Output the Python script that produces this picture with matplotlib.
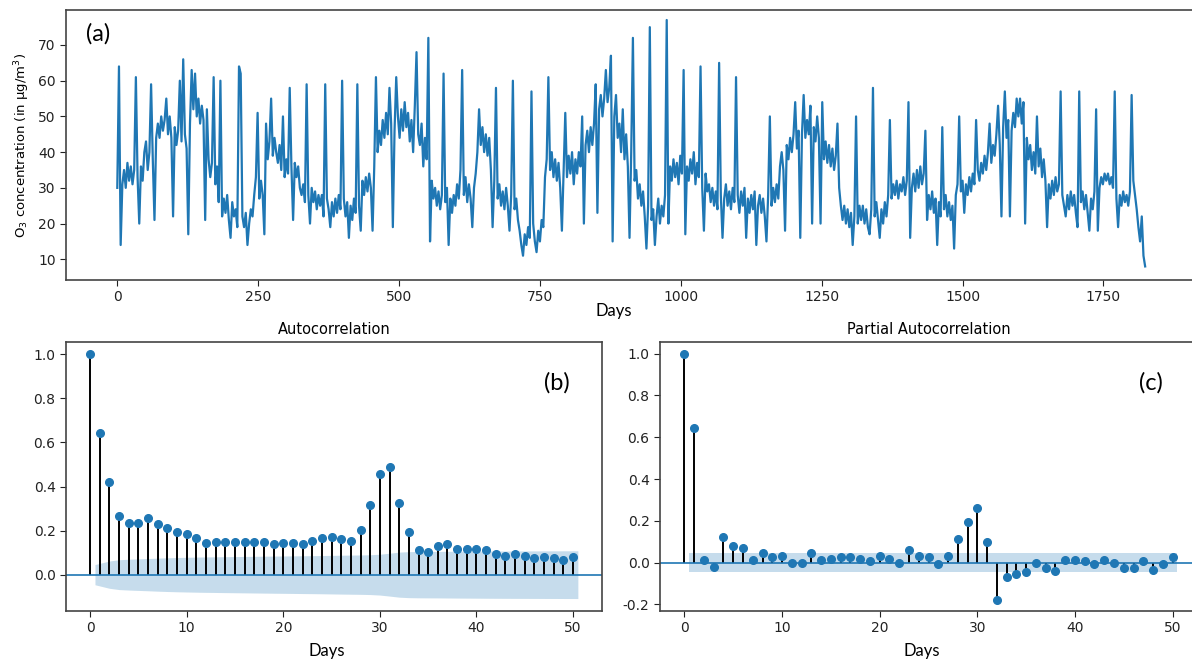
import numpy as np
import matplotlib
matplotlib.use('Agg')
import matplotlib.pyplot as plt

# O3 series, every 3 days (0 .. 1824)
days = np.arange(0, 1825, 3)
o3 = [
    30, 64, 14, 31, 35, 30, 37, 32, 36, 31,
    35, 61, 33, 20, 36, 32, 40, 43, 35, 40,
    59, 38, 21, 44, 48, 44, 50, 46, 49, 55,
    45, 50, 44, 22, 47, 42, 46, 60, 43, 66,
    45, 41, 17, 48, 63, 52, 62, 50, 55, 48,
    53, 49, 21, 52, 38, 33, 37, 61, 31, 36,
    26, 60, 22, 27, 23, 28, 21, 16, 26, 22,
    24, 19, 64, 62, 22, 19, 23, 14, 20, 24,
    22, 28, 33, 51, 27, 32, 28, 17, 48, 38,
    43, 55, 39, 44, 40, 37, 42, 35, 50, 33,
    38, 34, 58, 36, 21, 37, 33, 36, 30, 28,
    31, 26, 59, 28, 20, 30, 26, 29, 24, 28,
    25, 28, 22, 59, 27, 24, 19, 26, 22, 27,
    23, 28, 24, 60, 27, 22, 26, 16, 25, 21,
    27, 23, 59, 25, 18, 32, 28, 33, 29, 34,
    30, 18, 36, 61, 40, 46, 42, 49, 44, 51,
    45, 58, 48, 19, 46, 61, 50, 44, 52, 46,
    54, 47, 51, 43, 49, 40, 53, 68, 45, 42,
    48, 36, 44, 38, 72, 15, 32, 27, 30, 25,
    29, 24, 28, 62, 26, 30, 14, 27, 23, 28,
    25, 31, 27, 35, 63, 28, 33, 26, 31, 27,
    19, 30, 34, 40, 52, 42, 47, 40, 45, 39,
    44, 35, 19, 32, 58, 27, 31, 25, 29, 24,
    30, 25, 18, 28, 60, 24, 27, 21, 18, 14,
    11, 17, 14, 19, 16, 57, 20, 15, 12, 18,
    15, 21, 19, 33, 38, 61, 35, 40, 33, 38,
    32, 37, 30, 18, 35, 51, 33, 39, 34, 40,
    31, 38, 34, 40, 36, 50, 20, 42, 46, 40,
    47, 42, 48, 59, 23, 52, 56, 50, 55, 63,
    54, 58, 67, 15, 50, 56, 44, 48, 40, 52,
    38, 45, 36, 16, 40, 72, 32, 35, 27, 31,
    25, 29, 22, 13, 25, 75, 21, 24, 14, 22,
    27, 20, 25, 22, 28, 77, 20, 36, 32, 38,
    33, 37, 31, 39, 34, 63, 17, 36, 32, 38,
    34, 40, 31, 37, 33, 64, 30, 18, 34, 29,
    31, 26, 30, 25, 29, 24, 65, 28, 16, 27,
    31, 25, 29, 24, 30, 26, 61, 28, 23, 29,
    25, 30, 16, 27, 23, 28, 24, 29, 14, 25,
    28, 23, 27, 22, 15, 28, 50, 25, 30, 26,
    31, 27, 36, 40, 35, 18, 42, 38, 44, 40,
    45, 54, 41, 46, 16, 45, 56, 44, 49, 45,
    53, 20, 47, 43, 50, 44, 20, 54, 38, 43,
    37, 42, 36, 41, 35, 39, 48, 30, 25, 21,
    25, 20, 24, 19, 23, 14, 22, 50, 20, 25,
    21, 25, 20, 24, 19, 17, 24, 58, 22, 26,
    21, 16, 24, 20, 26, 22, 28, 49, 27, 31,
    28, 32, 27, 31, 29, 33, 28, 32, 54, 16,
    30, 34, 29, 35, 30, 36, 31, 34, 46, 21,
    28, 24, 29, 23, 27, 14, 26, 22, 47, 24,
    28, 22, 26, 21, 25, 13, 28, 31, 50, 29,
    32, 23, 31, 28, 33, 29, 34, 31, 49, 35,
    32, 37, 34, 39, 35, 40, 48, 37, 42, 39,
    45, 53, 42, 22, 47, 57, 44, 49, 22, 46,
    51, 47, 55, 50, 55, 48, 54, 20, 44, 38,
    42, 35, 40, 34, 50, 36, 41, 33, 38, 32,
    19, 31, 27, 32, 28, 33, 29, 31, 57, 28,
    25, 22, 28, 24, 29, 25, 28, 23, 19, 57,
    26, 29, 24, 28, 23, 18, 27, 24, 29, 52,
    18, 30, 33, 31, 34, 32, 34, 31, 33, 30,
    57, 27, 19, 28, 25, 29, 26, 28, 25, 29,
    56, 32, 28, 24, 19, 15, 22, 11, 8,
]

# correlograms, lags 0 .. 50
lags = np.arange(0, 51)
acf_vals = [
    1.0, 0.643, 0.422, 0.268, 0.235, 0.235, 0.255, 0.232, 0.21, 0.192,
    0.186, 0.167, 0.145, 0.149, 0.149, 0.149, 0.149, 0.149, 0.149, 0.137,
    0.143, 0.143, 0.137, 0.154, 0.166, 0.172, 0.161, 0.155, 0.204, 0.318,
    0.455, 0.487, 0.324, 0.192, 0.11, 0.104, 0.128, 0.137, 0.116, 0.116,
    0.116, 0.11, 0.092, 0.086, 0.092, 0.086, 0.074, 0.078, 0.074, 0.068,
    0.08,
]
pacf_vals = [
    1.0, 0.646, 0.014, -0.021, 0.12, 0.08, 0.072, 0.014, 0.047, 0.026,
    0.032, 0.0, 0.0, 0.048, 0.014, 0.019, 0.026, 0.026, 0.019, 0.006,
    0.032, 0.019, 0.0, 0.059, 0.032, 0.026, -0.008, 0.032, 0.113, 0.193,
    0.26, 0.10, -0.18, -0.068, -0.053, -0.045, 0.0, -0.027, -0.04, 0.013,
    0.013, 0.006, -0.008, 0.014, 0.0, -0.027, -0.027, 0.006, -0.034, -0.008,
    0.026,
]
n_obs = 1826

W, H = 1192, 661
LABEL_FONT = ['Lato', 'DejaVu Sans']


def px(l, t, r, b):
    return [l / W, 1 - b / H, (r - l) / W, (b - t) / H]


def style_axes(ax):
    for s in ax.spines.values():
        s.set_color('#444444')
        s.set_linewidth(1.2)
    ax.tick_params(labelsize=10, colors='#222222', length=4)


def corr_plot(ax, vals, band, title):
    vals = np.asarray(vals)
    ax.vlines(lags, 0, vals, colors='k', lw=1.4)
    ax.plot(lags, vals, 'o', color='C0', ms=5.5, zorder=3)
    ax.axhline(0, color='C0', lw=1.2)
    x = lags[1:].astype(float)
    x[0] -= 0.5
    x[-1] += 0.5
    ax.fill_between(x, -band[1:], band[1:], color='C0', alpha=0.25, lw=0)
    ax.set_title(title, fontsize=10.5, pad=6)
    ax.set_xticks([0, 10, 20, 30, 40, 50])


fig = plt.figure(figsize=(W / 100, H / 100), dpi=100)

# (a) time series
ax1 = fig.add_axes(px(66, 10, 1197, 280))
ax1.plot(days, o3, color='#1f77b4', lw=1.6)
ax1.set_xlim(-91, 1916)
ax1.set_ylim(4.2, 79.8)
ax1.set_xticks(np.arange(0, 1751, 250))
ax1.set_yticks(np.arange(10, 71, 10))
ax1.set_ylabel(r'O$_3$ concentration (in µg/m$^3$)', fontsize=9.5)
style_axes(ax1)
ax1.text(0.018, 0.91, '(a)', transform=ax1.transAxes, fontsize=17,
         family=LABEL_FONT, va='center')

# (b) ACF with Bartlett band
acf_arr = np.asarray(acf_vals)
var_acf = np.ones(len(acf_arr)) / n_obs
var_acf[0] = 0
var_acf[2:] *= 1 + 2 * np.cumsum(acf_arr[1:-1] ** 2)
acf_band = 1.96 * np.sqrt(var_acf)

ax2 = fig.add_axes(px(66, 342, 602, 611))
corr_plot(ax2, acf_vals, acf_band, 'Autocorrelation')
ax2.set_xlim(-2.5, 53.0)
ax2.set_ylim(-0.165, 1.056)
ax2.set_yticks(np.arange(0, 1.01, 0.2))
ax2.yaxis.set_major_formatter(matplotlib.ticker.FormatStrFormatter('%.1f'))
style_axes(ax2)
ax2.text(0.915, 0.85, '(b)', transform=ax2.transAxes, fontsize=17,
         family=LABEL_FONT, va='center', ha='center')

# (c) PACF, constant band
pacf_band = np.full(len(lags), 1.96 / np.sqrt(n_obs))
ax3 = fig.add_axes(px(660, 342, 1197, 611))
corr_plot(ax3, pacf_vals, pacf_band, 'Partial Autocorrelation')
ax3.set_xlim(-2.5, 52.5)
ax3.set_ylim(-0.232, 1.056)
ax3.set_yticks(np.arange(-0.2, 1.01, 0.2))
ax3.yaxis.set_major_formatter(matplotlib.ticker.FormatStrFormatter('%.1f'))
style_axes(ax3)
ax3.text(0.915, 0.85, '(c)', transform=ax3.transAxes, fontsize=17,
         family=LABEL_FONT, va='center', ha='center')

# "Days" labels
fig.text(614 / W, 1 - 311 / H, 'Days', fontsize=12, family=LABEL_FONT,
         ha='center', va='center')
fig.text(327 / W, 1 - 651 / H, 'Days', fontsize=12, family=LABEL_FONT,
         ha='center', va='center')
fig.text(922 / W, 1 - 651 / H, 'Days', fontsize=12, family=LABEL_FONT,
         ha='center', va='center')

fig.savefig('out.png', dpi=100)
